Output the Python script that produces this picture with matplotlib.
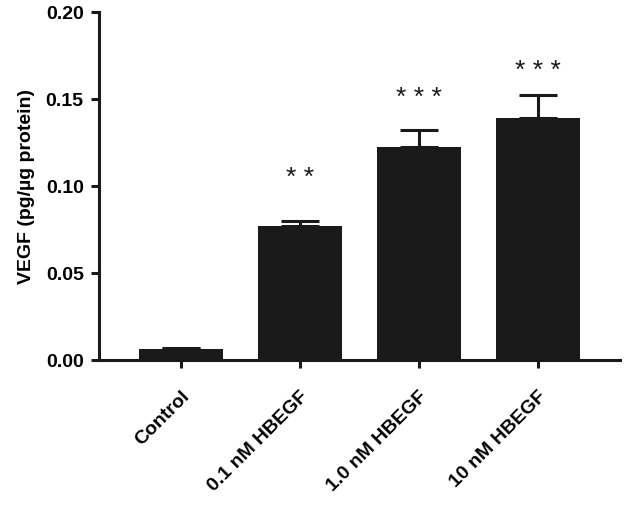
import matplotlib
matplotlib.use('Agg')
import matplotlib.pyplot as plt
import numpy as np

##      DATA       ##
groups = ['Control', '0.1 nM HBEGF', '1.0 nM HBEGF', '10 nM HBEGF']
vegf = [0.0065, 0.0772, 0.1224, 0.139]
sem = [0.0005, 0.0028, 0.0096, 0.0135]
stars = ['', '* *', '* * *', '* * *']
star_y = [None, 0.106, 0.152, 0.168]

plt.rcParams['font.family'] = ['Liberation Sans', 'DejaVu Sans']
plt.rcParams['font.weight'] = 'bold'

fig = plt.figure(figsize=(6.3, 5.28), dpi=100)
ax = fig.add_axes([0.157, 0.318, 0.827, 0.659])

x = np.arange(len(groups))
ax.bar(x, vegf, width=0.71, color='#1a1a1a', zorder=2)
ax.errorbar(x, vegf, yerr=[np.zeros(len(sem)), sem], fmt='none', ecolor='#1a1a1a',
            elinewidth=2.2, capsize=14, capthick=2.2, zorder=1)

# asterisks drawn as text, glyph sits high in the box so nudge down a bit
for xi, s, sy in zip(x, stars, star_y):
    if s:
        ax.annotate(s, (xi, sy), xytext=(0, -2), textcoords='offset points',
                    ha='center', va='center', fontsize=19, fontweight='normal',
                    color='#1a1a1a')

##      AXES       ##
ax.set_xlim(-0.69, 3.69)
ax.set_ylim(0, 0.2)
ax.set_yticks([0, 0.05, 0.1, 0.15, 0.2])
ax.set_yticklabels(['%.2f' % v for v in [0, 0.05, 0.1, 0.15, 0.2]])
ax.set_xticks(x)
ax.set_xticklabels(groups, rotation=45, ha='right', rotation_mode='anchor')

for side in ['top', 'right']:
    ax.spines[side].set_visible(False)
for side in ['left', 'bottom']:
    ax.spines[side].set_linewidth(2.2)
    ax.spines[side].set_color('#1a1a1a')
ax.tick_params(axis='both', width=2.2, length=6, color='#1a1a1a', labelsize=14, pad=5)
ax.tick_params(axis='x', pad=14)
ax.set_ylabel('VEGF (pg/µg protein)', fontsize=14, fontweight='bold', labelpad=8)

fig.savefig('out.png', dpi=100)
